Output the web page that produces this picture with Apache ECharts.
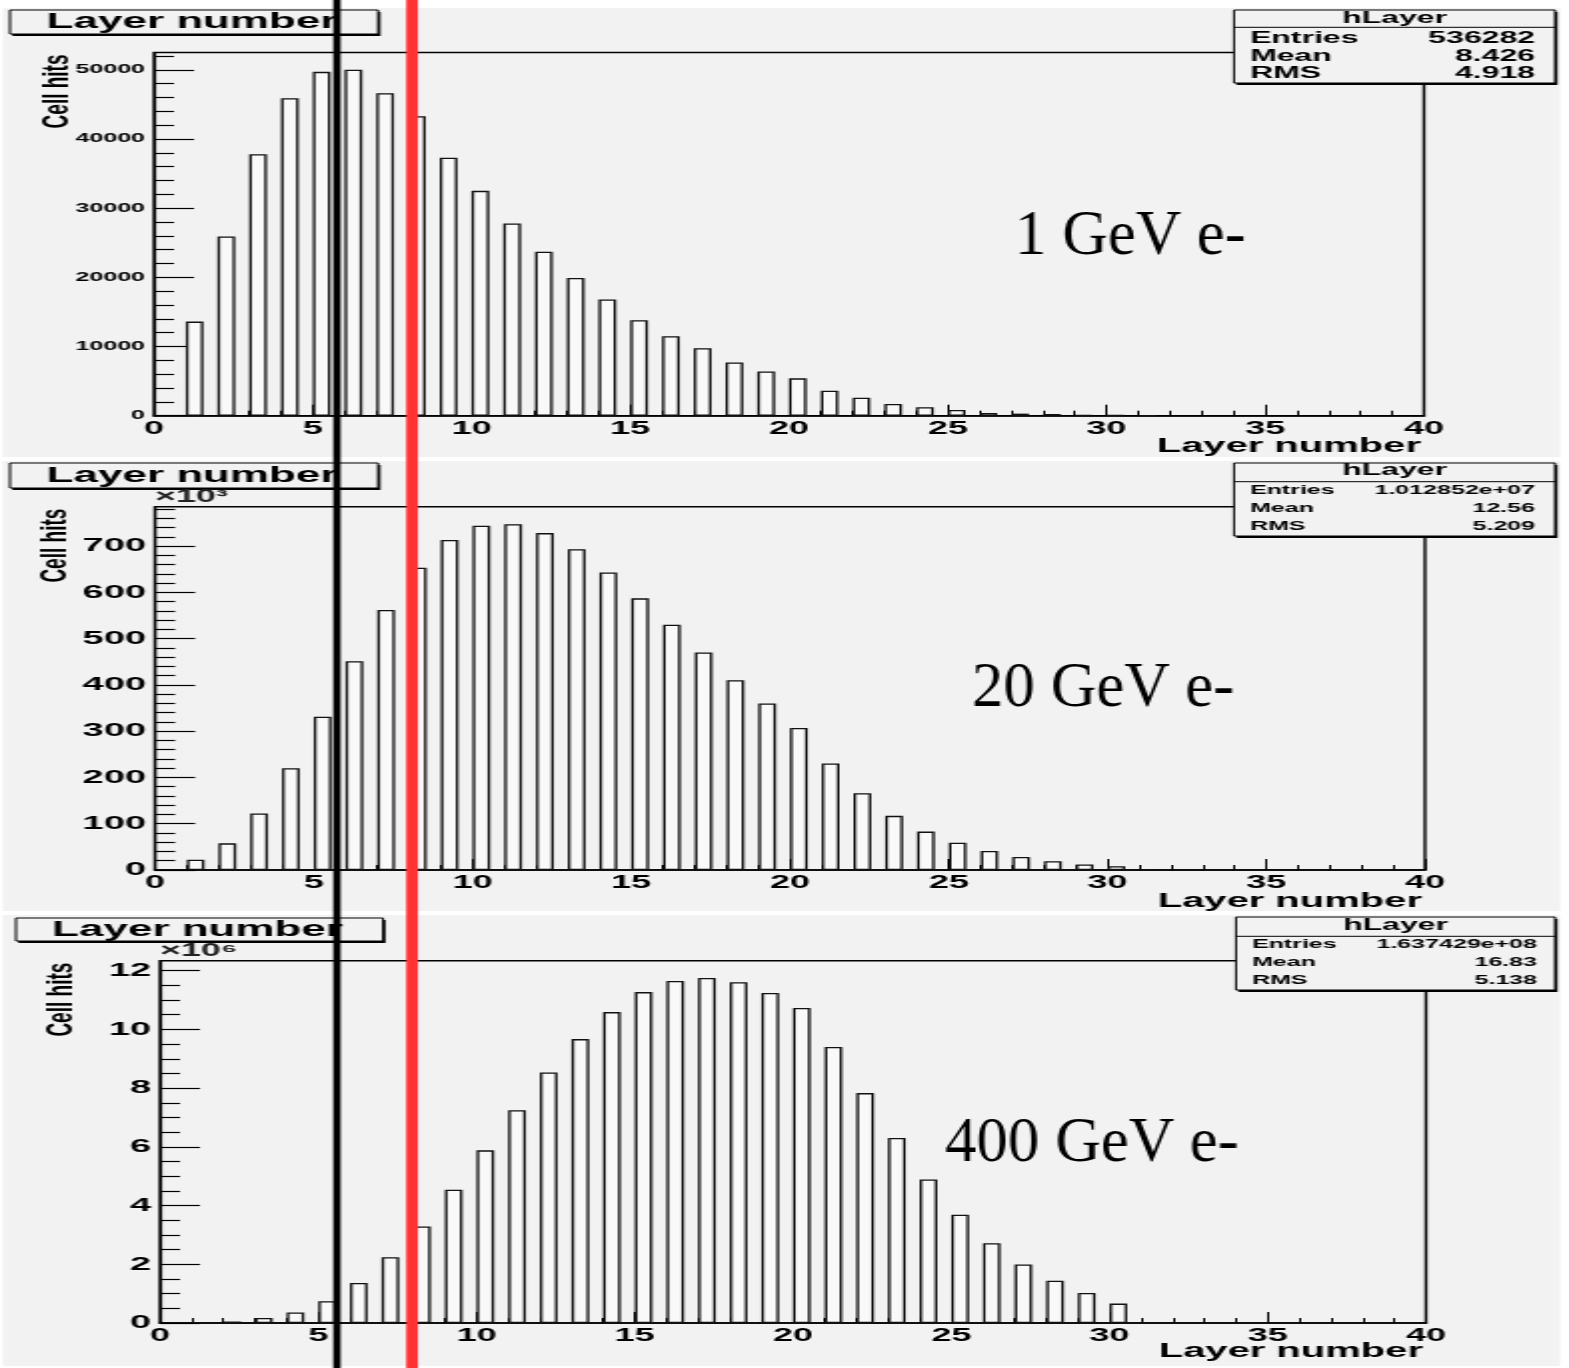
<!DOCTYPE html>
<html>
<head>
<meta charset="utf-8">
<title>Cell hits per layer</title>
<script src="https://cdn.jsdelivr.net/npm/echarts@6/dist/echarts.min.js"></script>
<style>
  html, body { margin: 0; padding: 0; background: #fff; overflow: hidden; }
  #wrap { width: 1569px; height: 1368px; overflow: hidden; }
  #chart { width: 785px; height: 1368px; transform-origin: 0 0; transform: scaleX(1.99873); }
</style>
</head>
<body>
<div id="wrap"><div id="chart"></div></div>
<script>
// the ROOT canvas in the picture is stretched ~2x horizontally,
// so the chart is drawn at half width and stretched back with css
const SX = 1569 / 785
const px = x => x / SX

const layers = [1, 2, 3, 4, 5, 6, 7, 8, 9, 10, 11, 12, 13, 14, 15, 16, 17, 18, 19, 20,
  21, 22, 23, 24, 25, 26, 27, 28, 29, 30, 31]

const hits1GeV = [13600, 25900, 37800, 45900, 49700, 50000, 46600, 43300, 37300, 32500,
  27800, 23700, 19900, 16800, 13800, 11500, 9750, 7700, 6380, 5400,
  3600, 2600, 1700, 1220, 830, 400, 300, 250, 120, 80, 40]

const hits20GeV = [22000, 57600, 122000, 220000, 331000, 451000, 562000, 653000, 713000, 744000,
  747000, 728000, 693000, 643000, 587000, 530000, 470000, 410000, 360000, 307000,
  230000, 166000, 117000, 83000, 59000, 41000, 28000, 19000, 12000, 8000, 2000]

const hits400GeV = [30000, 50000, 170000, 360000, 740000, 1360000, 2240000, 3290000, 4540000, 5880000,
  7250000, 8530000, 9670000, 10590000, 11270000, 11650000, 11750000, 11610000, 11240000, 10730000,
  9400000, 7830000, 6300000, 4890000, 3690000, 2720000, 1990000, 1440000, 1020000, 660000]

const energyLabels = ['1 GeV e-', '20 GeV e-', '400 GeV e-']
const statEntries = ['536282', '1.012852e+07', '1.637429e+08']
const statMean = ['8.426', '12.56', '16.83']
const statRms = ['4.918', '5.209', '5.138']

const yMax = [52500, 785000, 12340000]
const yMajor = [10000, 100000, 2000000]
const yMinor = [2000, 20000, 500000]
const yExp = [0, 3, 6]
const yExpLabel = ['', '×10³', '×10⁶']

// black and red marker lines, in layer units of the top panel
const markerLayers = [5.76, 8.13]
const markerColors = ['#000000', '#ff3333']
const markerWidths = [7.3, 11.7]

const allHits = [hits1GeV, hits20GeV, hits400GeV]

// layout, in picture pixels
const panels = [
  { padT: 8, padB: 457, gl: 154, gr: 1424, gt: 52.5, gb: 415.7,
    box: [10, 10, 368, 24], stat: [1234, 10, 321, 73], statSep: 27.3, statTitleY: 18.5,
    statRows: [39, 56.5, 74], statFont: 16, yFont: 12.5, yTitleX: 57, lab: [1015, 237], xTitleY: 436 },
  { padT: 461, padB: 911, gl: 155, gr: 1425, gt: 506.7, gb: 870,
    box: [10, 463, 368, 25], stat: [1234, 463, 321, 73], statSep: 481.7, statTitleY: 471,
    statRows: [490.8, 509, 526.5], statFont: 12.5, yFont: 19, yTitleX: 56, lab: [972, 689], xTitleY: 891 },
  { padT: 915, padB: 1366, gl: 160, gr: 1426, gt: 960.7, gb: 1323,
    box: [16, 918, 367, 23], stat: [1236, 917, 319, 73], statSep: 936.3, statTitleY: 925.5,
    statRows: [944.5, 962.5, 980.5], statFont: 12.5, yFont: 19, yTitleX: 62, lab: [945, 1144], xTitleY: 1341 },
]

const FONT = '"Liberation Sans", Arial, sans-serif'
const BG = '#f2f2f2'
const barFrac = 0.557

function steps(max, step) {
  const out = []
  for (let v = 0; v <= max + 1e-9; v += step) out.push(v)
  return out
}

function txt(x, y, text, size, extra) {
  return Object.assign({
    type: 'text', x: x, y: y, z: 60,
    style: Object.assign({
      text: text, fill: '#000', fontFamily: FONT, fontWeight: 'bold', fontSize: size,
      align: 'left', verticalAlign: 'middle',
    }, extra && extra.style),
  }, extra && extra.el)
}

function shadowBox(x, y, w, h) {
  return [
    { type: 'rect', z: 55, shape: { x: px(x) + 1.2, y: y + 2, width: px(w), height: h }, style: { fill: '#000' } },
    { type: 'rect', z: 56, shape: { x: px(x), y: y, width: px(w), height: h },
      style: { fill: BG, stroke: '#000', lineWidth: 1 } },
  ]
}

const grids = [], xAxes = [], yAxes = [], series = [], graphics = []

panels.forEach((p, i) => {
  const gw = px(p.gr - p.gl)
  grids.push({
    left: px(p.gl), top: p.gt, width: gw, height: p.gb - p.gt,
    show: true, borderColor: '#000', borderWidth: 1.4, backgroundColor: 'transparent',
    containLabel: false, outerBoundsMode: 'none',
  })

  xAxes.push({
    gridIndex: i, type: 'value', min: 0, max: 40, interval: 5,
    axisLine: { onZero: false, lineStyle: { color: '#000', width: 1.6 } },
    axisTick: { inside: true, length: 11, lineStyle: { color: '#000', width: 1 } },
    minorTick: { show: true, splitNumber: 5, length: 5, lineStyle: { color: '#000', width: 1 } },
    axisLabel: { color: '#000', fontFamily: FONT, fontWeight: 'bold', fontSize: 18, margin: 4 },
    splitLine: { show: false },
  })

  const majors = steps(yMax[i], yMajor[i])
  const minors = steps(yMax[i], yMinor[i]).filter(v => majors.indexOf(v) < 0)
  const div = Math.pow(10, yExp[i])
  yAxes.push({
    gridIndex: i, type: 'value', position: 'left', min: 0, max: yMax[i], interval: yMajor[i],
    axisLine: { onZero: false, lineStyle: { color: '#000', width: 1.2 } },
    axisTick: { inside: true, length: px(40), customValues: majors, lineStyle: { color: '#000', width: 1.2 } },
    axisLabel: {
      customValues: majors, formatter: v => String(Math.round(v / div)),
      color: '#000', fontFamily: FONT, fontWeight: 'bold', fontSize: p.yFont, margin: px(9),
    },
    splitLine: { show: false },
  })
  yAxes.push({
    gridIndex: i, type: 'value', position: 'left', offset: 0, min: 0, max: yMax[i], interval: yMinor[i],
    axisLine: { show: false },
    axisTick: { show: true, inside: true, length: px(20), customValues: minors, lineStyle: { color: '#000', width: 1.2 } },
    axisLabel: { show: false },
    splitLine: { show: false },
  })

  const vals = allHits[i]
  series.push({
    type: 'bar', xAxisIndex: i, yAxisIndex: 2 * i,
    data: layers.slice(0, vals.length).map((l, k) => [l + barFrac / 2, vals[k]]),
    barWidth: barFrac * gw / 40,
    itemStyle: { color: '#f9f9f9', borderColor: '#111', borderWidth: 1.3 },
    silent: true,
  })

  // pad background
  graphics.push({ type: 'rect', z: -10, shape: { x: px(3), y: p.padT, width: px(1557), height: p.padB - p.padT },
    style: { fill: BG } })

  // title box
  graphics.push(...shadowBox(...p.box))
  graphics.push(txt(px(p.box[0] + p.box[2] / 2 - 2), p.box[1] + p.box[3] / 2, 'Layer number', 22,
    { style: { align: 'center' } }))

  // stats box
  const [sx, sy, sw, sh] = p.stat
  graphics.push(...shadowBox(sx, sy, sw, sh))
  graphics.push({ type: 'line', z: 57, shape: { x1: px(sx), y1: p.statSep, x2: px(sx + sw), y2: p.statSep },
    style: { stroke: '#000', lineWidth: 1 } })
  graphics.push(txt(px(sx + sw / 2), p.statTitleY, 'hLayer', 16, { style: { align: 'center' } }))
  const names = ['Entries', 'Mean', 'RMS']
  const values = [statEntries[i], statMean[i], statRms[i]]
  names.forEach((n, k) => {
    graphics.push(txt(px(sx + 16), p.statRows[k], n, p.statFont))
    graphics.push(txt(px(sx + 301), p.statRows[k], values[k], p.statFont, { style: { align: 'right' } }))
  })

  // axis titles
  graphics.push(txt(px(p.yTitleX), p.gt + 2, 'Cell hits', 19, {
    el: { rotation: Math.PI / 2 },
    style: { align: 'right', fontFamily: '"Liberation Sans Narrow", "Liberation Sans", sans-serif' },
  }))
  graphics.push(txt(px(p.gr - 3), p.xTitleY, 'Layer number', 20, { style: { verticalAlign: 'top', align: 'right' } }))
  if (yExpLabel[i]) {
    graphics.push(txt(px(p.gl), p.gt - 1, yExpLabel[i], 18, { style: { verticalAlign: 'bottom', fill: '#222' } }))
  }

  // energy label, not stretched
  graphics.push(txt(px(p.lab[0]), p.lab[1], energyLabels[i], 63, {
    el: { scaleX: 1 / SX },
    style: { fontFamily: '"Liberation Serif", "Times New Roman", serif', fontWeight: 'normal' },
  }))
})

const chart = echarts.init(document.getElementById('chart'), null, { renderer: 'canvas' })
chart.setOption({
  animation: false,
  backgroundColor: '#ffffff',
  grid: grids,
  xAxis: xAxes,
  yAxis: yAxes,
  series: series,
  graphic: { elements: graphics },
})

// marker lines over the whole picture, placed with the top panel's x scale
markerLayers.forEach((l, k) => {
  const cx = chart.convertToPixel({ gridIndex: 0 }, [l, 0])[0]
  const w = px(markerWidths[k])
  graphics.push({ type: 'rect', z: 90, shape: { x: cx - w / 2, y: 0, width: w, height: 1368 },
    style: { fill: markerColors[k] } })
})
chart.setOption({ graphic: { elements: graphics } })
</script>
</body>
</html>
